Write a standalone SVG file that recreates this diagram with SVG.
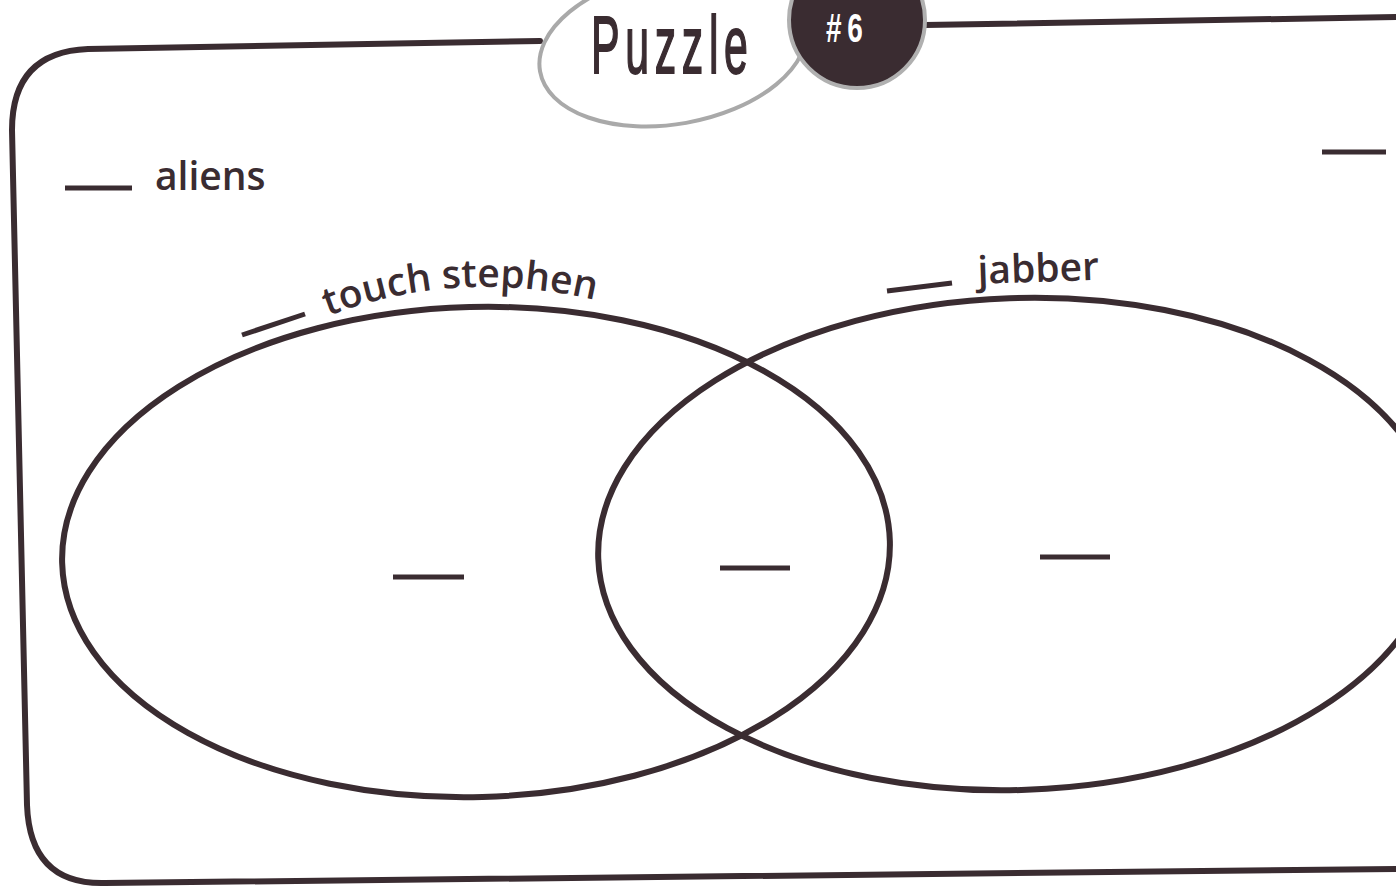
<svg xmlns="http://www.w3.org/2000/svg" width="1396" height="888" viewBox="0 0 1396 888">
<defs>
<style>
.ink{fill:none;stroke:#3a2c31;stroke-width:6;stroke-linecap:round}
.dash{stroke:#3a2c31;stroke-width:5}
.lbl{font-family:"Open Sans","DejaVu Sans",sans-serif;font-size:39px;font-weight:600;fill:#3a2c31}
</style>
<path id="arc" d="M 328 316 Q 460 266 604 302"/>
</defs>
<rect width="1396" height="888" fill="#ffffff"/>
<g id="frame">
<path class="ink" d="M 540 41 L 88 49 Q 12 52 12 130 L 27 805 Q 30 885 105 883 L 1396 869"/>
<path class="ink" d="M 925 25 L 1396 17"/>
</g>
<g id="title">
<ellipse cx="673" cy="48" rx="135" ry="76" transform="rotate(-10 673 48)" fill="#ffffff" stroke="#a9a9a9" stroke-width="4"/>
<circle cx="857" cy="20" r="68" fill="#3a2c31" stroke="#b0b0b0" stroke-width="4"/>
<text x="0" y="0" transform="translate(591 73) scale(0.63 1.19)" font-family="Liberation Sans, Arial, sans-serif" font-size="68" letter-spacing="9" fill="#3a2c31" stroke="#3a2c31" stroke-width="1.5">Puzzle</text>
<text x="0" y="0" transform="translate(826 42) scale(0.7 1)" font-family="Liberation Sans, Arial, sans-serif" font-size="40" font-weight="bold" letter-spacing="8" fill="#ffffff">#6</text>
</g>
<g id="sets">
<ellipse class="ink" cx="476" cy="552" rx="414" ry="245" transform="rotate(-1.5 476 552)"/>
<ellipse class="ink" cx="1018" cy="544" rx="420" ry="246" transform="rotate(-2 1018 544)"/>
</g>
<g id="labels">
<line class="dash" x1="65" y1="188" x2="132" y2="188"/>
<text class="lbl" x="155" y="190">aliens</text>
<line class="dash" x1="1322" y1="152" x2="1386" y2="152"/>
<line class="dash" x1="242" y1="335" x2="305" y2="314"/>
<text class="lbl"><textPath href="#arc">touch stephen</textPath></text>
<line class="dash" x1="887" y1="291" x2="952" y2="283"/>
<text class="lbl" x="978" y="284" transform="rotate(-2 978 284)">jabber</text>
<line class="dash" x1="393" y1="577" x2="464" y2="577"/>
<line class="dash" x1="720" y1="568" x2="790" y2="568"/>
<line class="dash" x1="1040" y1="557" x2="1110" y2="557"/>
</g>
</svg>
